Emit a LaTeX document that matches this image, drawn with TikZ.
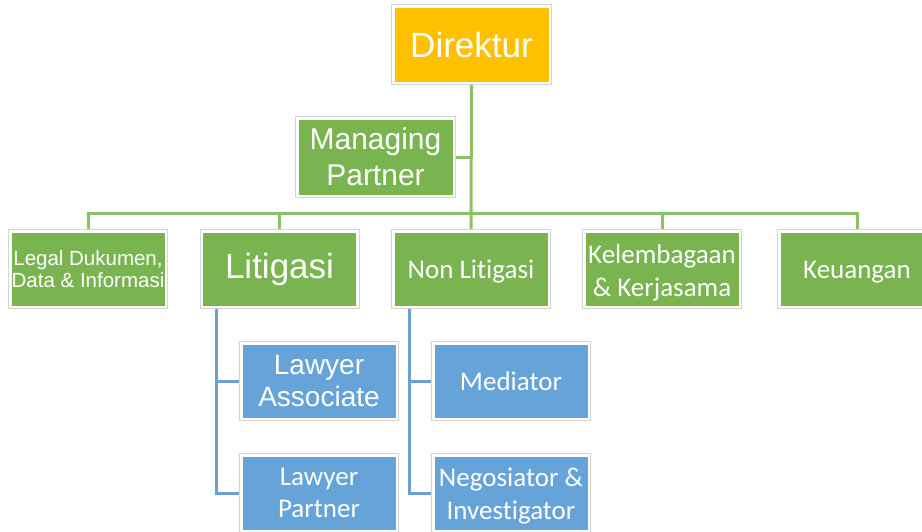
\documentclass[tikz,border=0pt]{standalone}
\usepackage{fontspec}
\newfontfamily\arialf{Liberation Sans}
\newfontfamily\calf[Ligatures=NoCommon]{Carlito}
\usetikzlibrary{backgrounds}
\definecolor{gbox}{HTML}{7AB451}
\definecolor{bbox}{HTML}{66A3D9}
\definecolor{ybox}{HTML}{FFC000}
\definecolor{gline}{HTML}{8CBF66}
\definecolor{bline}{HTML}{6C9FD2}
\definecolor{rim}{HTML}{D4D4D4}
\newcommand\lowtxt[2][3pt]{\raisebox{-#1}[\height][\depth]{\begin{tabular}{@{}c@{}}#2\end{tabular}}}
\tikzset{
  orgbox/.style={preaction={draw=rim, line width=4.5pt}, draw=white, line width=2.5pt,
    text=white, align=center, inner sep=0pt, minimum width=155.5pt, minimum height=75.5pt},
  gbx/.style={orgbox, fill=gbox},
  bbx/.style={orgbox, fill=bbox},
  ybx/.style={orgbox, fill=ybox},
  gconn/.style={draw=gline, line width=3pt},
  bconn/.style={draw=bline, line width=3pt},
}
\begin{document}
\begin{tikzpicture}[x=1pt, y=-1pt]
\useasboundingbox (0,0) rectangle (922,531);
\clip (0,0) rectangle (922,531);
\node[ybx, minimum width=156.5pt, minimum height=76.5pt, font=\arialf\fontsize{35}{40}\selectfont] (dir) at (471.5,44.5) {Direktur};
\node[gbx, minimum width=156.5pt, minimum height=77.5pt, font=\arialf\fontsize{30}{36}\selectfont] (mp) at (375.5,157) {Managing\\Partner};
\node[gbx, font=\arialf\fontsize{20.5}{22}\selectfont] (legal) at (88,269) {Legal Dukumen,\\Data \& Informasi};
\node[gbx, font=\arialf\fontsize{35}{40}\selectfont] (lit) at (279.5,269) {Litigasi};
\node[gbx, font=\calf\fontsize{27}{33}\selectfont] (nonlit) at (471,269) {\lowtxt{Non Litigasi}};
\node[gbx, font=\calf\fontsize{27}{33}\selectfont] (kel) at (662,269) {\lowtxt[4pt]{Kelembagaan\\\& Kerjasama}};
\node[gbx, font=\calf\fontsize{27}{33}\selectfont] (keu) at (857,269) {\lowtxt{Keuangan}};
\node[bbx, font=\arialf\fontsize{28}{32}\selectfont] (la) at (319,381) {Lawyer\\Associate};
\node[bbx, font=\calf\fontsize{27}{32}\selectfont] (lp) at (319,493) {Lawyer\\Partner};
\node[bbx, font=\calf\fontsize{27}{32}\selectfont] (med) at (511,381) {Mediator};
\node[bbx, font=\calf\fontsize{27}{33}\selectfont] (neg) at (511,493) {\lowtxt[3pt]{Negosiator \&\\Investigator}};
\coordinate (bar) at (471,213);
\coordinate (litdrop) at (216,309);
\coordinate (nondrop) at (409,309);
\begin{scope}[on background layer]
\draw[gconn] (dir.south) -- (nonlit.north);
\draw[gconn] (mp.east) -- (mp.east -| dir.south);
\draw[gconn] (legal.north) |- (keu.north |- bar) -- (keu.north);
\draw[gconn] (lit.north) -- (lit.north |- bar);
\draw[gconn] (kel.north) -- (kel.north |- bar);
\draw[bconn] (litdrop) |- (lp.west);
\draw[bconn] (la.west) -- (la.west -| litdrop);
\draw[bconn] (nondrop) |- (neg.west);
\draw[bconn] (med.west) -- (med.west -| nondrop);
\end{scope}
\end{tikzpicture}
\end{document}
